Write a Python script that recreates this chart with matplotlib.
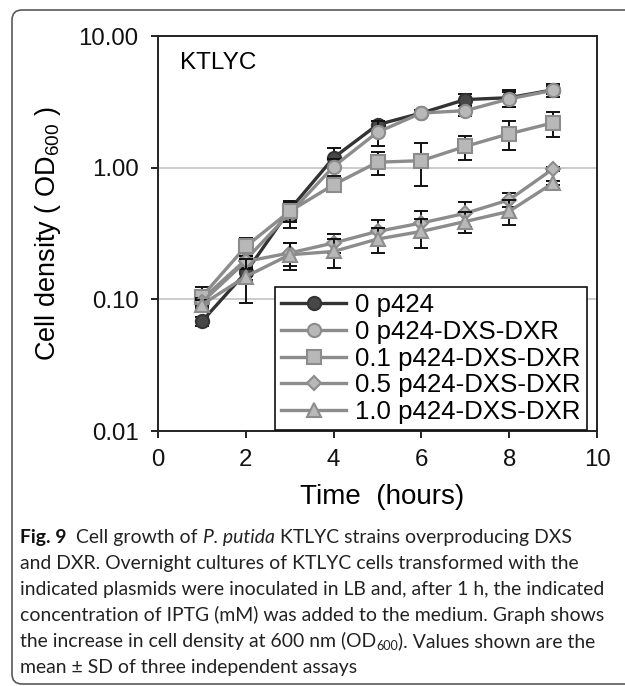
import matplotlib
matplotlib.use("Agg")
import matplotlib.pyplot as plt
import numpy as np
from matplotlib.patches import FancyBboxPatch
from matplotlib.transforms import IdentityTransform
from matplotlib.ticker import FixedLocator, NullLocator

# ---------------- data ----------------
time_h = [1, 2, 3, 4, 5, 6, 7, 8, 9]
series_labels = ["0 p424", "0 p424-DXS-DXR", "0.1 p424-DXS-DXR",
                 "0.5 p424-DXS-DXR", "1.0 p424-DXS-DXR"]
od_p424_0 = [0.068, 0.16, 0.48, 1.19, 2.12, 2.60, 3.29, 3.40, 3.90]
err_p424_0 = [0.005, 0.02, 0.08, 0.22, 0.15, 0.15, 0.34, 0.50, 0.30]
od_dxs_0 = [0.100, 0.20, 0.45, 1.02, 1.86, 2.60, 2.71, 3.33, 3.87]
err_dxs_0 = [0.010, 0.03, 0.10, 0.15, 0.40, 0.15, 0.25, 0.45, 0.45]
od_dxs_01 = [0.105, 0.252, 0.466, 0.742, 1.10, 1.13, 1.45, 1.81, 2.19]
err_dxs_01 = [0.020, 0.04, 0.08, 0.06, 0.22, 0.40, 0.30, 0.45, 0.48]
od_dxs_05 = [0.095, 0.194, 0.225, 0.268, 0.328, 0.38, 0.45, 0.57, 0.98]
err_dxs_05 = [0.008, 0.02, 0.045, 0.045, 0.07, 0.085, 0.095, 0.07, 0.03]
od_dxs_10 = [0.091, 0.149, 0.218, 0.231, 0.287, 0.328, 0.39, 0.466, 0.765]
err_dxs_10 = [0.008, 0.055, 0.05, 0.058, 0.063, 0.083, 0.07, 0.10, 0.03]

ytick_vals = [0.01, 0.1, 1, 10]
ytick_labels = ["0.01", "0.10", "1.00", "10.00"]
xtick_vals = [0, 2, 4, 6, 8, 10]
strain_label = "KTLYC"
x_label = "Time  (hours)"
y_label = r"Cell density ( OD$_{600}$ )"

caption_lines = [
    [("Fig. 9", "bold"), ("  Cell growth of ", "normal"), ("P. putida", "italic"),
     (" KTLYC strains overproducing DXS", "normal")],
    [("and DXR. Overnight cultures of KTLYC cells transformed with the", "normal")],
    [("indicated plasmids were inoculated in LB and, after 1 h, the indicated", "normal")],
    [("concentration of IPTG (mM) was added to the medium. Graph shows", "normal")],
    [("the increase in cell density at 600 nm (OD", "normal"), ("600", "sub"),
     ("). Values shown are the", "normal")],
    [("mean \u00b1 SD of three independent assays", "normal")],
]

# ---------------- style ----------------
plt.rcParams['font.family'] = ['Liberation Sans', 'DejaVu Sans']
plt.rcParams['mathtext.fontset'] = 'custom'
plt.rcParams['mathtext.rm'] = 'Liberation Sans'
plt.rcParams['mathtext.it'] = 'Liberation Sans:italic'
plt.rcParams['mathtext.bf'] = 'Liberation Sans:bold'

W, H = 625, 686
fig = plt.figure(figsize=(W / 100, H / 100), dpi=100)
fig.patch.set_facecolor("white")

ax_l, ax_r, ax_t, ax_b = 158, 597, 36, 431
ax = fig.add_axes([ax_l / W, 1 - ax_b / H, (ax_r - ax_l) / W, (ax_b - ax_t) / H])
ax.set_yscale("log")
ax.set_xlim(0, 10)
ax.set_ylim(0.01, 10)

dark_line = "#333333"
dark_face = "#474747"
light_line = "#8c8c8c"
light_face = "#b8b8b8"

styles = [
    dict(marker="o", ms=9.5, color=dark_line, mfc=dark_face, mec=dark_line),
    dict(marker="o", ms=9.5, color=light_line, mfc=light_face, mec=light_line),
    dict(marker="s", ms=9.5, color=light_line, mfc=light_face, mec=light_line),
    dict(marker="D", ms=7.5, color=light_line, mfc=light_face, mec=light_line),
    dict(marker="^", ms=10, color=light_line, mfc=light_face, mec=light_line),
]
values = [od_p424_0, od_dxs_0, od_dxs_01, od_dxs_05, od_dxs_10]
errors = [err_p424_0, err_dxs_0, err_dxs_01, err_dxs_05, err_dxs_10]

for i, (lab, v, e, st) in enumerate(zip(series_labels, values, errors, styles)):
    ax.errorbar(time_h, v, yerr=e, fmt="none", ecolor="#111111", elinewidth=1.4,
                capsize=5, capthick=1.4, zorder=3 + 2 * i)
    ax.plot(time_h, v, lw=2.4, mew=1.5, label=lab, zorder=4 + 2 * i, **st)

# grid lines at decades
for gv in [0.1, 1]:
    ax.axhline(gv, color="#c4c4c4", lw=1.2, zorder=1)

ax.yaxis.set_major_locator(FixedLocator(ytick_vals))
ax.yaxis.set_minor_locator(NullLocator())
ax.set_yticklabels(ytick_labels)
ax.set_xticks(xtick_vals)
ax.tick_params(axis="both", direction="out", length=5, width=1.3, colors="#111111",
               labelsize=17.3)
ax.tick_params(axis="y", pad=9)
ax.tick_params(axis="x", pad=8)
for sp in ax.spines.values():
    sp.set_linewidth(1.4)
    sp.set_color("#222222")

ax.set_xlabel(x_label, fontsize=20, va="center")
ax.xaxis.set_label_coords(0.51, -0.168)
ax.set_ylabel(y_label, fontsize=19.5, va="center")
ax.yaxis.set_label_coords(-0.25, 0.5)

ax.text((180 - ax_l) / (ax_r - ax_l), (ax_b - 63) / (ax_b - ax_t), strain_label,
        transform=ax.transAxes, fontsize=17.5, va="center", ha="left")

leg = ax.legend(loc="upper left", bbox_to_anchor=((275 - ax_l) / (ax_r - ax_l),
                                                    (ax_b - 287) / (ax_b - ax_t)),
                borderaxespad=0, fontsize=18.6, handlelength=2.5, handletextpad=0.35,
                labelspacing=0.1, borderpad=0.25, fancybox=False, framealpha=1,
                edgecolor="#111111")
leg.get_frame().set_linewidth(1.2)
leg.set_zorder(20)

# ---------------- border ----------------
border = FancyBboxPatch((12, H - 684), 660, 674, boxstyle="round,pad=0,rounding_size=10",
                        transform=IdentityTransform(), fill=False, edgecolor="#5a5a5a",
                        lw=1.2)
fig.add_artist(border)

# ---------------- caption ----------------
cap_font = ['Lato', 'DejaVu Sans']
renderer = fig.canvas.get_renderer()

# fit font size so that line 3 spans 20..605 px
probe = fig.text(0, 0, caption_lines[2][0][0], fontsize=15, family=cap_font)
wp = probe.get_window_extent(renderer).width
probe.remove()
cap_size = 15 * (585 / wp)

x0 = 20
base0 = 543
pitch = 26
for li, pieces in enumerate(caption_lines):
    x = x0
    yb = H - (base0 + li * pitch)
    for txt, kind in pieces:
        kw = dict(fontsize=cap_size, family=cap_font, va="baseline", ha="left",
                  transform=IdentityTransform(), color="#222222")
        yy = yb
        if kind == "bold":
            kw["fontweight"] = "bold"
            kw["color"] = "#111111"
        elif kind == "italic":
            kw["fontstyle"] = "italic"
        elif kind == "sub":
            kw["fontsize"] = cap_size * 0.65
            yy = yb - 0.18 * cap_size * 100 / 72
        t = fig.text(x, yy, txt, **kw)
        x += t.get_window_extent(renderer).width

fig.savefig("out.png", dpi=100)
